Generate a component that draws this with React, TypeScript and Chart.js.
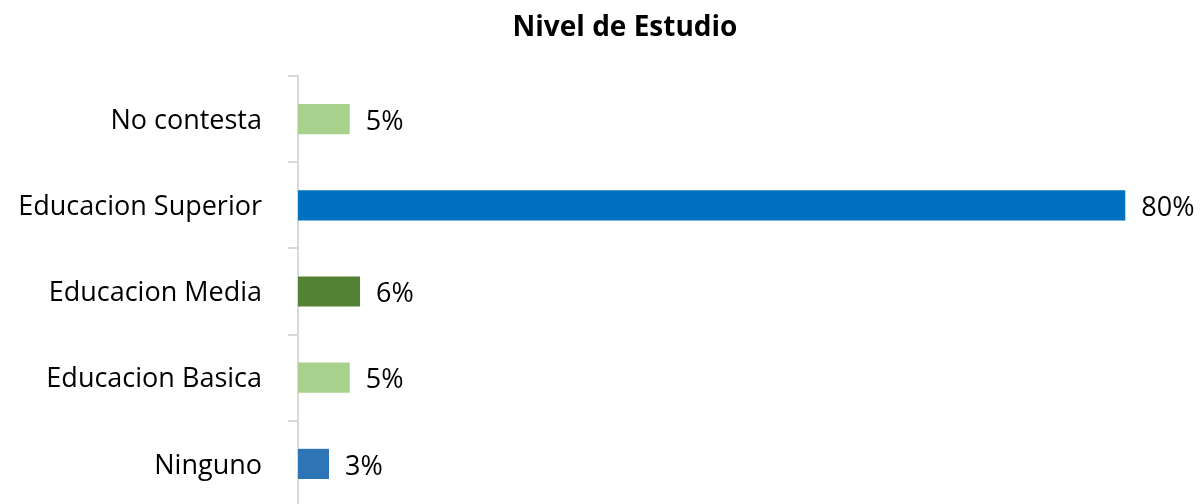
import React, { useEffect, useRef } from "react";
import { Chart, registerables } from "chart.js";

Chart.register(...registerables);

const TITLE = "Nivel de Estudio";
const categories = ["No contesta", "Educacion Superior", "Educacion Media", "Educacion Basica", "Ninguno"];
const values = [5, 80, 6, 5, 3];
const valueLabels = ["5%", "80%", "6%", "5%", "3%"];
const barColors = ["#A9D18E", "#0070C0", "#548235", "#A9D18E", "#2E75B6"];

const FONT = "'Open Sans', 'Noto Sans', sans-serif";

export default function App() {
  const ref = useRef<HTMLCanvasElement | null>(null);

  useEffect(() => {
    if (!ref.current) return;
    const titlePlugin = {
      id: "customTitle",
      afterDraw(chart: any) {
        const ctx = chart.ctx;
        ctx.save();
        ctx.font = `bold 28px ${FONT}`;
        ctx.fillStyle = "#000000";
        ctx.textAlign = "center";
        ctx.textBaseline = "middle";
        ctx.fillText(TITLE, 625, 28);
        ctx.restore();
      },
    };
    const labelPlugin = {
      id: "valueLabels",
      afterDatasetsDraw(chart: any) {
        const ctx = chart.ctx;
        const meta = chart.getDatasetMeta(0);
        ctx.save();
        ctx.font = `27px ${FONT}`;
        ctx.fillStyle = "#000000";
        ctx.textAlign = "left";
        ctx.textBaseline = "middle";
        meta.data.forEach((bar: any, i: number) => {
          ctx.fillText(valueLabels[i], bar.x + 16, bar.y + 3);
        });
        ctx.restore();
      },
    };
    const chart = new Chart(ref.current, {
      type: "bar",
      data: {
        labels: categories,
        datasets: [
          {
            data: values,
            backgroundColor: barColors,
            borderWidth: 0,
            categoryPercentage: 1,
            barPercentage: 0.35,
          },
        ],
      },
      options: {
        indexAxis: "y",
        animation: false,
        responsive: false,
        maintainAspectRatio: false,
        layout: { padding: { top: 76, bottom: 3, left: 0, right: 27 } },
        plugins: {
          legend: { display: false },
          title: { display: false },
          tooltip: { enabled: false },
        },
        scales: {
          x: {
            display: false,
            min: 0,
            max: 85,
          },
          y: {
            afterFit(scale: any) {
              scale.width = 298;
              scale.paddingTop = 0;
              scale.paddingBottom = 0;
            },
            grid: {
              display: true,
              offset: true,
              drawOnChartArea: false,
              drawTicks: true,
              tickLength: 10,
              color: "#D9D9D9",
              lineWidth: 2,
            },
            border: { display: true, color: "#D9D9D9", width: 2 },
            ticks: {
              padding: 26,
              labelOffset: 2,
              color: "#000000",
              font: { family: FONT, size: 27 },
            },
          },
        },
      },
      plugins: [titlePlugin, labelPlugin],
    });
    return () => chart.destroy();
  }, []);

  return (
    <div style={{ position: "fixed", left: 0, top: 0, width: 1204, height: 504, overflow: "hidden", background: "#ffffff" }}>
      <canvas ref={ref} width={1204} height={510} style={{ display: "block" }} />
    </div>
  );
}
